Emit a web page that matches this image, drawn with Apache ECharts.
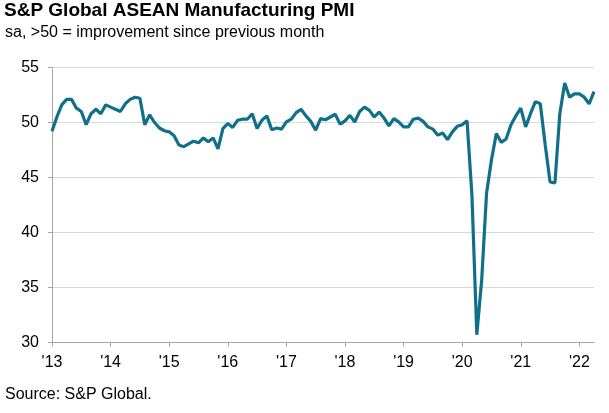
<!DOCTYPE html>
<html>
<head>
<meta charset="utf-8">
<script src="https://cdn.jsdelivr.net/npm/echarts@6/dist/echarts.min.js"></script>
<style>
html,body{margin:0;padding:0;background:#fff;}
#chart{width:609px;height:413px;}
</style>
</head>
<body>
<div id="chart"></div>
<script>
const titleText = 'S&P Global ASEAN Manufacturing PMI';
const subtitleText = 'sa, >50 = improvement since previous month';
const sourceText = 'Source: S&P Global.';

const yearLabels = ['13','14','15','16','17','18','19','20','21','22'];
const monthsPerYear = [12,12,12,12,12,12,12,12,12,4];

const pmi2013 = [49.2, 50.5, 51.6, 52.1, 52.1, 51.3, 51.0, 49.8, 50.8, 51.2, 50.8, 51.6];
const pmi2014 = [51.4, 51.2, 51.0, 51.7, 52.1, 52.3, 52.2, 49.8, 50.7, 50.0, 49.5, 49.25];
const pmi2015 = [49.15, 48.8, 47.95, 47.8, 48.05, 48.3, 48.15, 48.6, 48.25, 48.6, 47.6, 49.45];
const pmi2016 = [49.9, 49.55, 50.2, 50.3, 50.3, 50.8, 49.45, 50.2, 50.6, 49.35, 49.5, 49.4];
const pmi2017 = [50.05, 50.3, 50.9, 51.2, 50.6, 50.1, 49.3, 50.35, 50.25, 50.5, 50.75, 49.85];
const pmi2018 = [50.15, 50.65, 50.05, 51.0, 51.4, 51.1, 50.5, 50.95, 50.4, 49.7, 50.35, 50.05];
const pmi2019 = [49.6, 49.6, 50.3, 50.4, 50.1, 49.6, 49.4, 48.85, 49.05, 48.45, 49.15, 49.65];
const pmi2020 = [49.8, 50.15, 43.4, 30.7, 35.7, 43.6, 46.6, 49.0, 48.2, 48.5, 49.8, 50.6];
const pmi2021 = [51.3, 49.6, 50.8, 51.9, 51.7, 48.0, 44.6, 44.5, 50.8, 53.6, 52.3, 52.6];
const pmi2022 = [52.6, 52.3, 51.7, 52.8];

const values = [].concat(pmi2013, pmi2014, pmi2015, pmi2016, pmi2017, pmi2018, pmi2019, pmi2020, pmi2021, pmi2022);
const categories = [];
yearLabels.forEach(function (y, yi) {
  for (let m = 0; m < monthsPerYear[yi]; m++) {
    categories.push(m === 0 ? "'" + y : y + '-' + (m + 1));
  }
});

const FONT = '"Liberation Sans", Arial, sans-serif';
const chart = echarts.init(document.getElementById('chart'), null, {renderer: 'canvas'});
const isJan = function (i) { return i % 12 === 0; };

chart.setOption({
  animation: false,
  backgroundColor: '#ffffff',
  title: [
    {text: titleText, left: 4, top: 1, padding: 0,
     textStyle: {fontFamily: FONT, fontSize: 19, fontWeight: 'bold', color: '#000000'}},
    {text: subtitleText, left: 5, top: 25, padding: 0,
     textStyle: {fontFamily: FONT, fontSize: 16, fontWeight: 'normal', color: '#000000'}},
    {text: sourceText, left: 5, top: 386.5, padding: 0,
     textStyle: {fontFamily: FONT, fontSize: 16, fontWeight: 'normal', color: '#000000'}}
  ],
  grid: {left: 52, right: 15, top: 67.5, bottom: 70.5, containLabel: false},
  xAxis: {
    type: 'category',
    data: categories,
    boundaryGap: false,
    axisLine: {show: true, lineStyle: {color: '#a6a6a6', width: 1}},
    axisTick: {show: true, interval: isJan, length: 4, lineStyle: {color: '#a6a6a6'}},
    axisLabel: {
      interval: isJan, margin: 12, fontFamily: FONT, fontSize: 16, color: '#000000',
      formatter: function (v) { return v.charAt(0) === "'" ? v : ''; }
    },
    splitLine: {show: false}
  },
  yAxis: {
    type: 'value',
    min: 30, max: 55, interval: 5,
    axisLine: {show: true, lineStyle: {color: '#a6a6a6', width: 1}},
    axisTick: {show: true, length: 4, lineStyle: {color: '#a6a6a6'}},
    axisLabel: {margin: 13, fontFamily: FONT, fontSize: 16, color: '#000000'},
    splitLine: {show: true, lineStyle: {color: '#d9d9d9', width: 1}}
  },
  series: [{
    type: 'line',
    data: values,
    symbol: 'none',
    smooth: false,
    lineStyle: {color: '#10708a', width: 3.2},
    z: 3
  }]
});
</script>
</body>
</html>
